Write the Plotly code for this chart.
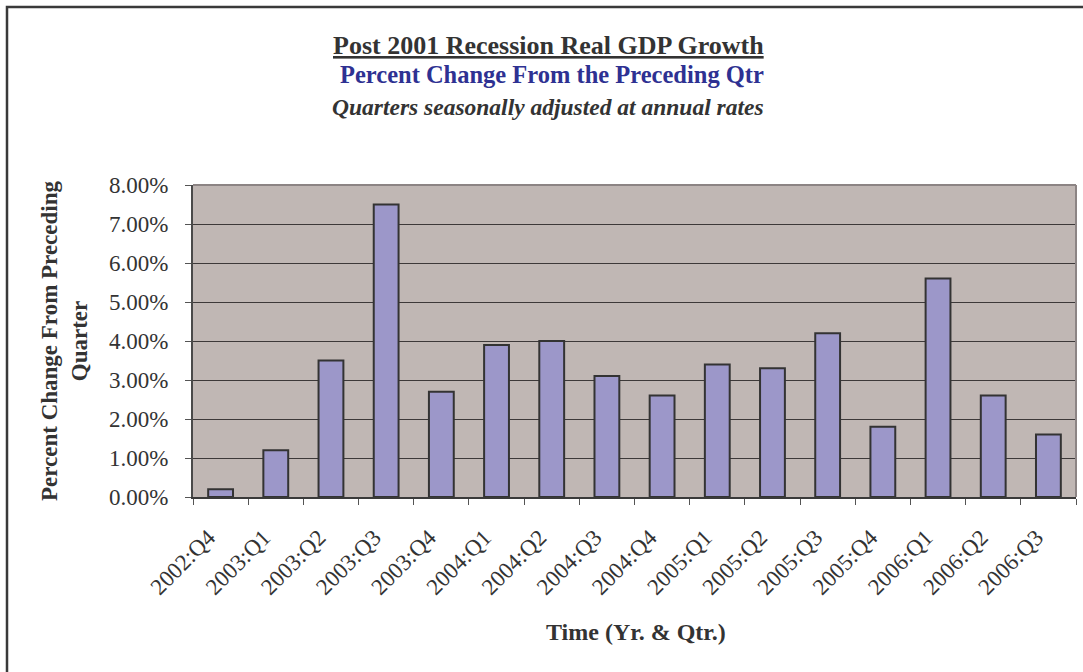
import plotly.graph_objects as go

# Quarterly real GDP growth, percent change from preceding quarter (annual rate)
quarters = ["2002:Q4", "2003:Q1", "2003:Q2", "2003:Q3", "2003:Q4", "2004:Q1",
            "2004:Q2", "2004:Q3", "2004:Q4", "2005:Q1", "2005:Q2", "2005:Q3",
            "2005:Q4", "2006:Q1", "2006:Q2", "2006:Q3"]
growth_pct = [0.2, 1.2, 3.5, 7.5, 2.7, 3.9, 4.0, 3.1, 2.6, 3.4, 3.3, 4.2,
              1.8, 5.6, 2.6, 1.6]
y_ticks = [0, 1, 2, 3, 4, 5, 6, 7, 8]
y_tick_labels = ["0.00%", "1.00%", "2.00%", "3.00%", "4.00%", "5.00%",
                 "6.00%", "7.00%", "8.00%"]

W, H = 1083, 672
L, R, T, B = 193, 7, 185, 175
pw, ph = W - L - R, H - T - B

SERIF = "Liberation Serif, Times New Roman, serif"
INK = "#333333"


def px_x(x):
    return (x - L) / pw


def px_y(y):
    return (H - B - y) / ph


fig = go.Figure(
    go.Bar(
        x=quarters,
        y=growth_pct,
        marker=dict(color="#9C97C9", line=dict(color="#333333", width=2)),
        hoverinfo="x+y",
    )
)

fig.update_layout(
    width=W,
    height=H,
    margin=dict(l=L, r=R, t=T, b=B),
    paper_bgcolor="white",
    plot_bgcolor="#C0B7B4",
    bargap=0.55,
    showlegend=False,
    font=dict(family=SERIF, color=INK),
)

fig.update_xaxes(
    type="category",
    showline=True,
    linecolor="#3a3a3a",
    linewidth=2,
    ticks="outside",
    tickson="boundaries",
    ticklen=6,
    tickcolor="#555555",
    tickangle=-45,
    ticklabelstandoff=16,
    ticklabelshift=-12,
    tickfont=dict(family=SERIF, size=23, color=INK),
    showgrid=False,
)

fig.update_yaxes(
    range=[0, 8],
    tickvals=y_ticks,
    ticktext=y_tick_labels,
    showline=True,
    linecolor="#4a4a4a",
    linewidth=2,
    ticks="outside",
    ticklen=6,
    tickcolor="#555555",
    ticklabelstandoff=12,
    tickfont=dict(family=SERIF, size=23, color=INK),
    showgrid=True,
    gridcolor="#3d3939",
    gridwidth=1,
    zeroline=False,
)

annotations = [
    dict(text="<b><u>Post 2001 Recession Real GDP Growth</u></b>",
         x=px_x(766), y=px_y(45), xanchor="right", yanchor="middle",
         font=dict(family=SERIF, size=26, color=INK)),
    dict(text="<b>Percent Change From the Preceding Qtr</b>",
         x=px_x(766), y=px_y(75), xanchor="right", yanchor="middle",
         font=dict(family=SERIF, size=24.5, color="#2E3192")),
    dict(text="<b><i>Quarters seasonally adjusted at annual rates</i></b>",
         x=px_x(766), y=px_y(107), xanchor="right", yanchor="middle",
         font=dict(family=SERIF, size=23.5, color=INK)),
    dict(text="<b>Percent Change From Preceding<br>Quarter</b>",
         x=px_x(64), y=px_y(341), xanchor="center", yanchor="middle",
         textangle=-90,
         font=dict(family=SERIF, size=23, color=INK)),
    dict(text="<b>Time (Yr. &amp; Qtr.)</b>",
         x=px_x(636), y=px_y(632), xanchor="center", yanchor="middle",
         font=dict(family=SERIF, size=24, color=INK)),
]
for a in annotations:
    a.update(xref="paper", yref="paper", showarrow=False)
fig.update_layout(annotations=annotations)

# Plot-area top/right edges and the outer chart frame
shapes = [
    dict(type="line", x0=0, x1=1, y0=1, y1=1,
         line=dict(color="#8C8484", width=2)),
    dict(type="line", x0=1, x1=1, y0=0, y1=1,
         line=dict(color="#8C8484", width=2)),
    dict(type="rect", x0=px_x(7), x1=px_x(1095), y0=px_y(7), y1=px_y(690),
         line=dict(color="#3a3a3a", width=2.5), fillcolor="rgba(0,0,0,0)"),
]
for s in shapes:
    s.update(xref="paper", yref="paper", layer="above")
fig.update_layout(shapes=shapes)

fig.write_html("out.html")
